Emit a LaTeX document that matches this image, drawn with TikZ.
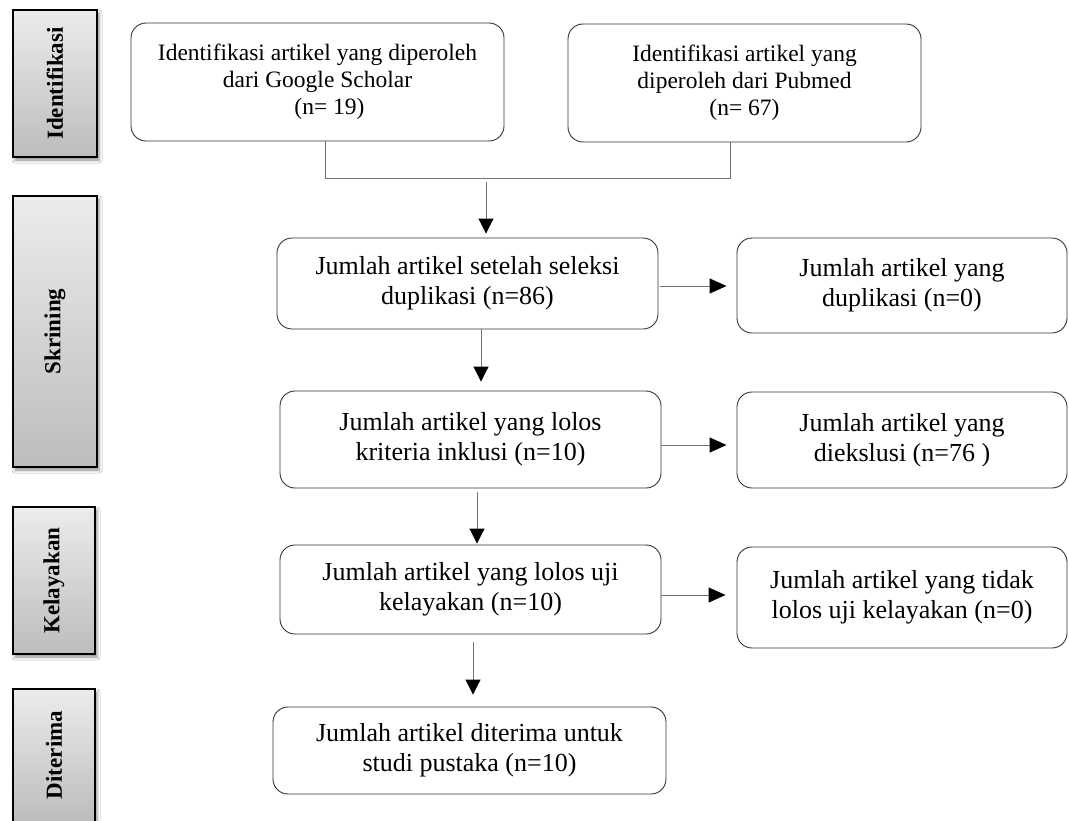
\documentclass[tikz,border=0pt]{standalone}
\usepackage{fontspec}
\setmainfont{Liberation Serif}
\usetikzlibrary{arrows.meta,calc,shadows.blur}
\begin{document}
\begin{tikzpicture}[x=1pt,y=-1pt,
  box/.style={draw=black!80, line width=0.9pt, rounded corners=15pt, align=center, inner sep=0pt, font=\fontsize{26}{30}\selectfont},
  topbox/.style={box, font=\fontsize{23.5}{27}\selectfont},
  bar/.style={draw=black, line width=1.4pt, top color=gray!15, bottom color=gray!52, blur shadow={shadow xshift=2pt, shadow yshift=-3pt, shadow blur radius=3pt, shadow opacity=45}, inner sep=0pt},
  barlabel/.style={rotate=90, inner sep=0pt, font=\fontsize{23}{26}\selectfont\bfseries},
  conn/.style={draw=black!55, line width=0.9pt},
  arr/.style={conn, -{Triangle[length=15pt,width=15pt,color=black]}},
  harr/.style={conn, -{Triangle[length=17pt,width=15pt,color=black]}}
]
\useasboundingbox (0,0) rectangle (1069,820);
\fill[white] (0,0) rectangle (1069,820);

% side bars
\node[bar, minimum width=84pt, minimum height=147pt] (b1) at (55,83.5) {};
\node[bar, minimum width=84pt, minimum height=271pt] (b2) at (55,331.5) {};
\node[bar, minimum width=82pt, minimum height=147pt] (b3) at (54,580.5) {};
\node[bar, minimum width=82pt, minimum height=133pt] (b4) at (54,755.5) {};
\node[barlabel] (l1) at (b1) {Identifikasi};
\node[barlabel] (l2) at (b2) {Skrining};
\node[barlabel] (l3) at (b3) {Kelayakan};
\node[barlabel] (l4) at (54,755) {Diterima};

% boxes
\node[topbox, minimum width=373pt, minimum height=118pt] (A) at (317.5,82)
  {Identifikasi artikel yang diperoleh\\dari Google Scholar\\\hspace*{24pt}(n= 19)};
\node[topbox, minimum width=353pt, minimum height=118pt] (B) at (744.5,83)
  {Identifikasi artikel yang\\diperoleh dari Pubmed\\(n= 67)};
\node[box, minimum width=381pt, minimum height=91pt] (C) at (467.5,283.5)
  {Jumlah artikel setelah seleksi\\duplikasi (n=86)};
\node[box, minimum width=330pt, minimum height=95pt] (D) at (902,285.5)
  {Jumlah artikel yang\\duplikasi (n=0)};
\node[box, minimum width=381pt, minimum height=97pt] (E) at (470.5,439.5)
  {Jumlah artikel yang lolos\\kriteria inklusi (n=10)};
\node[box, minimum width=330pt, minimum height=96pt] (F) at (902,440)
  {Jumlah artikel yang\\diekslusi (n=76 )};
\node[box, minimum width=381pt, minimum height=89pt] (G) at (470.5,589.5)
  {Jumlah artikel yang lolos uji\\kelayakan (n=10)};
\node[box, minimum width=330pt, minimum height=101pt] (I) at (902,597.5)
  {Jumlah artikel yang tidak\\lolos uji kelayakan (n=0)};
\node[box, minimum width=393pt, minimum height=87pt] (H) at (469.5,750.5)
  {Jumlah artikel diterima untuk\\studi pustaka (n=10)};

% merge connector
\coordinate (jl) at (325,178);
\coordinate (jr) at (730,178);
\coordinate (jm) at (486,178);
\draw[conn] ($(A.south)+(7.5,0)$) -- (jl) -- (jr) -- ($(B.south)+(-14.5,0)$);
\draw[arr] ($(jm)+(0,4)$) -- ($(C.north)+(18.5,-4)$);

% vertical arrows
\draw[arr] ($(C.south)+(13.5,0)$) -- ($(E.north)+(10.5,-9)$);
\draw[arr] ($(E.south)+(6.5,4)$) -- ($(G.north)+(6.5,-1)$);
\draw[arr] ($(G.south)+(2.5,8)$) -- ($(H.north)+(3.5,-12)$);

% horizontal arrows
\draw[harr] ($(C.east)+(2,2.5)$) -- ($(D.west)+(-10,0.5)$);
\draw[harr] ($(E.east)+(0,5.5)$) -- ($(F.west)+(-10,5)$);
\draw[harr] ($(G.east)+(0,5.5)$) -- ($(I.west)+(-11,-2.5)$);
\end{tikzpicture}
\end{document}
